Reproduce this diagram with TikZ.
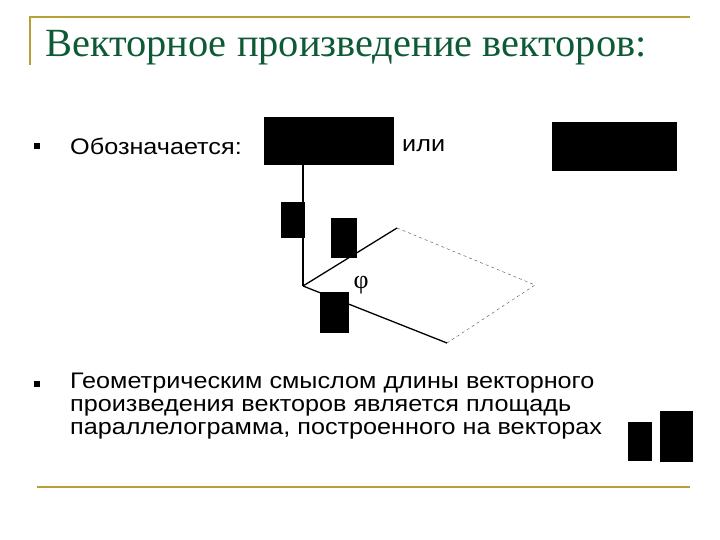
\documentclass[tikz,border=0pt]{standalone}
\usepackage{fontspec}
\setmainfont{Liberation Sans}
\newfontfamily\titlefont{Liberation Serif}
\definecolor{rulec}{HTML}{B8A038}
\definecolor{titlec}{HTML}{0E5A36}
\begin{document}
\begin{tikzpicture}[x=1pt,y=-1pt,
  blk/.style={fill=black},
  bul/.style={fill=black,minimum size=6pt,inner sep=0pt},
  txt/.style={anchor=west,inner sep=0pt,xscale=1.12,font=\fontsize{22.5}{23}\selectfont},
  ln/.style={line width=1.3pt},
  rule/.style={draw=rulec,line width=1.5pt}]
\useasboundingbox (0,0) rectangle (720,540);
\draw[rule] (30,65) -- (30,17) -- (690,17);
\draw[rule,line width=1.2pt] (37,487) -- (690,487);
\node[anchor=west,inner sep=0pt,text=titlec,xscale=1.01,font=\titlefont\fontsize{40}{42}\selectfont] (title) at (45,48) {Векторное произведение векторов:};
\node[bul] (b1) at (37,146) {};
\node[txt] (t1) at (70,146) {Обозначается:};
\node[txt] (t2) at (402,146) {или};
\node[bul] (b2) at (37,384) {};
\node[txt,align=left,anchor=north west] (t3) at (70,373) {Геометрическим смыслом длины векторного\\произведения векторов является площадь\\параллелограмма, построенного на векторах};
\coordinate (O) at (303,286);
\coordinate (T) at (303,160);
\coordinate (A) at (397,228);
\coordinate (B) at (447,343);
\coordinate (C) at (535,285);
\draw[ln] (O) -- (T);
\draw[ln] (O) -- (A);
\draw[ln] (O) -- (B);
\draw[dashed,thin,gray!60!black] (A) -- (C) -- (B);
\node[font=\titlefont\fontsize{26}{28}\selectfont] (phi) at (361,285) {φ};
\fill[blk] (264,117) rectangle (394,165);
\fill[blk] (552,122) rectangle (677,171);
\fill[blk] (281,202) rectangle (305,238);
\fill[blk] (331,218) rectangle (357,258);
\fill[blk] (320,292) rectangle (349,333);
\fill[blk] (628,422) rectangle (652,461);
\fill[blk] (660,411) rectangle (693,462);
\end{tikzpicture}
\end{document}
